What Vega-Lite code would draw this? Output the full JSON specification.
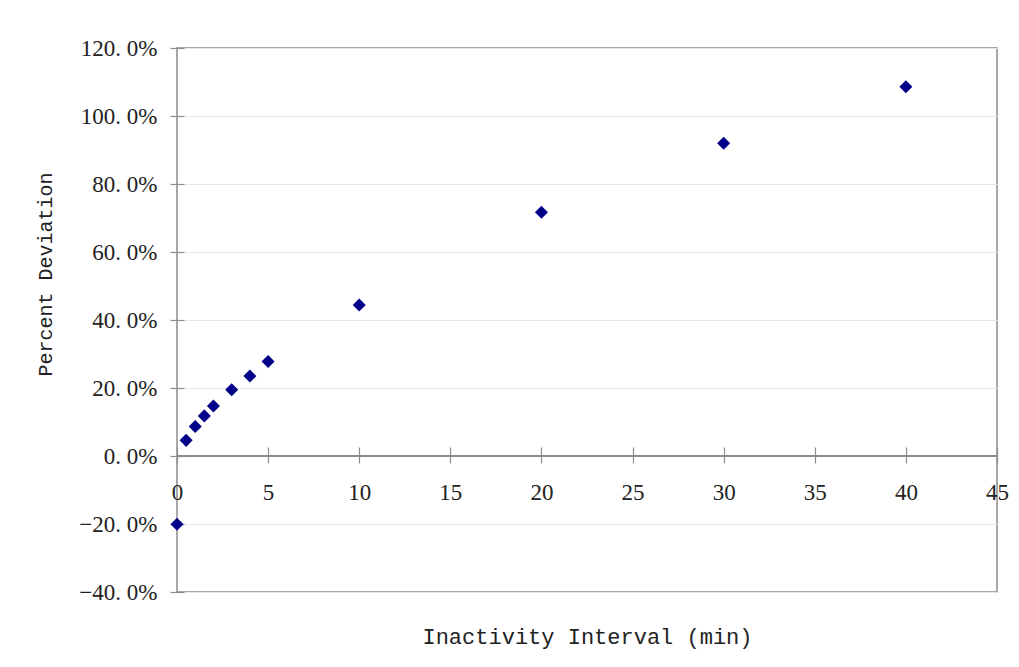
{
  "$schema": "https://vega.github.io/schema/vega-lite/v6.json",
  "autosize": {"type": "none"},
  "padding": {"left": 177, "top": 48, "right": 22, "bottom": 75},
  "width": 820,
  "height": 544,
  "background": "white",
  "config": {
    "view": {"stroke": "#8c8c8c", "strokeWidth": 1.5},
    "axis": {
      "labelFont": "Liberation Serif",
      "labelFontSize": 23,
      "labelColor": "#222",
      "titleFont": "Liberation Mono",
      "titleFontSize": 22,
      "titleFontWeight": "normal",
      "titleColor": "#222",
      "tickColor": "#8c8c8c",
      "tickWidth": 1.2
    }
  },
  "data": {
    "values": [
      {"interval": 0, "deviation": -20.1},
      {"interval": 0.5, "deviation": 4.6},
      {"interval": 1, "deviation": 8.7},
      {"interval": 1.5, "deviation": 11.8},
      {"interval": 2, "deviation": 14.7},
      {"interval": 3, "deviation": 19.5},
      {"interval": 4, "deviation": 23.5},
      {"interval": 5, "deviation": 27.8},
      {"interval": 10, "deviation": 44.4},
      {"interval": 20, "deviation": 71.7},
      {"interval": 30, "deviation": 92.0},
      {"interval": 40, "deviation": 108.6}
    ]
  },
  "layer": [
    {
      "mark": {"type": "rule", "color": "#8c8c8c", "strokeWidth": 1.5},
      "encoding": {"y": {"datum": 0, "type": "quantitative"}}
    },
    {
      "mark": {"type": "point", "shape": "diamond", "filled": true, "size": 170, "color": "#000088", "opacity": 1},
      "encoding": {
        "x": {
          "field": "interval",
          "type": "quantitative",
          "scale": {"domain": [0, 45], "nice": false, "zero": false},
          "axis": {
            "title": "Inactivity Interval (min)",
            "values": [0, 5, 10, 15, 20, 25, 30, 35, 40, 45],
            "grid": false,
            "domain": false,
            "offset": -145,
            "tickSize": 16,
            "labelPadding": 18,
            "labelFlush": false,
            "labelBound": false,
            "labelOverlap": false,
            "titleY": 189,
            "titleBaseline": "middle"
          }
        },
        "y": {
          "field": "deviation",
          "type": "quantitative",
          "scale": {"domain": [-40, 120], "nice": false, "zero": false},
          "axis": {
            "title": "Percent Deviation",
            "values": [-40, -20, 0, 20, 40, 60, 80, 100, 120],
            "labelExpr": "replace(format(datum.value, '.1f'), '.', '. ') + '%'",
            "grid": true,
            "gridColor": "#e6e6e6",
            "gridWidth": 1.2,
            "domain": false,
            "offset": -7,
            "tickSize": 14,
            "labelPadding": 13,
            "labelOverlap": false,
            "labelBound": false,
            "labelFlush": false,
            "titleFontSize": 20,
            "titleX": -139,
            "titleY": 226,
            "titleAlign": "center",
            "titleBaseline": "middle",
            "titleAngle": -90
          }
        }
      }
    }
  ]
}
